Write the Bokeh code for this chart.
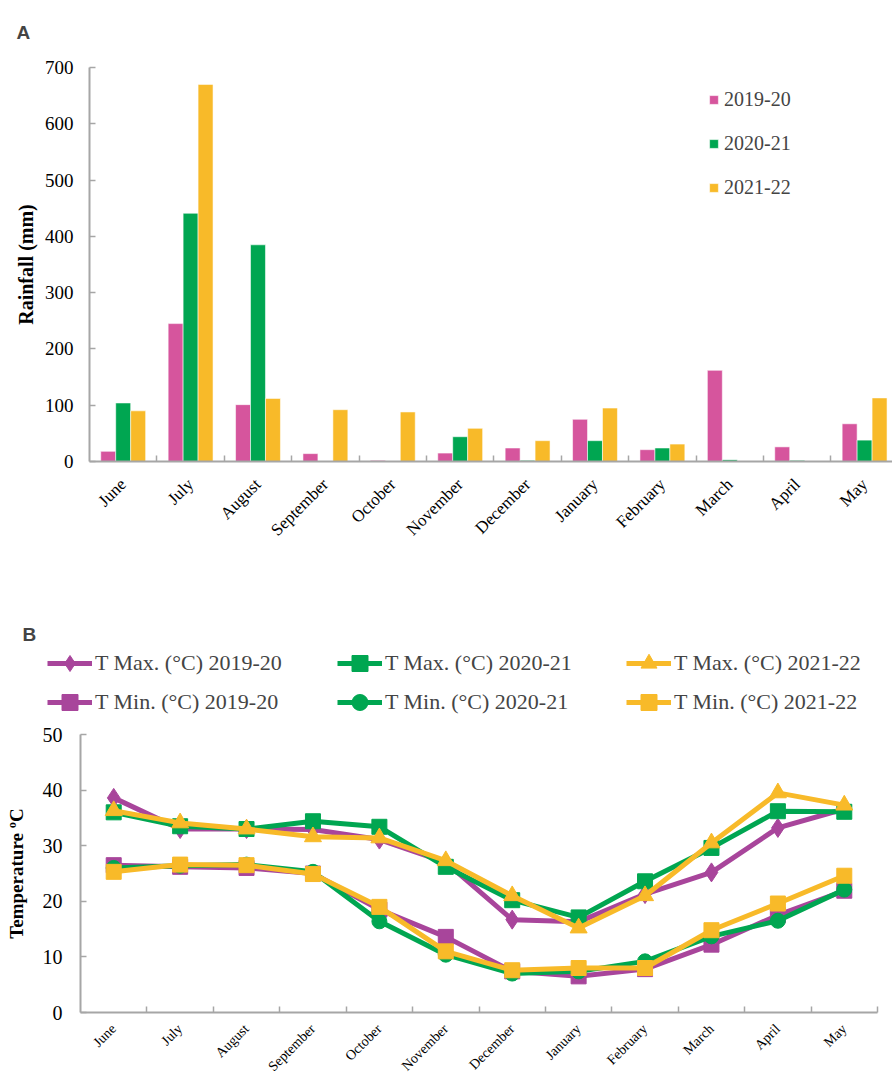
import numpy as np
from bokeh.plotting import figure
from bokeh.models import (FixedTicker, Legend, LegendItem, Range1d, Label,
                          LinearAxis)
from bokeh.embed import file_html
from bokeh.resources import INLINE

months = ["June", "July", "August", "September", "October", "November",
          "December", "January", "February", "March", "April", "May"]
seasons = ["2019-20", "2020-21", "2021-22"]

rain_2019_20 = [18, 245, 101, 14, 2, 15, 24, 75, 21, 162, 26, 67]
rain_2020_21 = [104, 441, 385, 0, 0, 44, 2, 37, 24, 3, 2, 38]
rain_2021_22 = [90, 670, 112, 92, 88, 59, 37, 95, 31, 0, 0, 113]

tmax_2019_20 = [38.6, 33.0, 33.0, 32.9, 31.1, 27.0, 16.7, 16.3, 21.3, 25.2, 33.2, 36.6]
tmax_2020_21 = [36.0, 33.5, 33.0, 34.4, 33.4, 26.2, 20.2, 17.1, 23.6, 29.6, 36.2, 36.1]
tmax_2021_22 = [36.3, 34.1, 33.0, 31.6, 31.4, 27.3, 21.0, 15.2, 21.0, 30.5, 39.5, 37.3]
tmin_2019_20 = [26.5, 26.2, 26.0, 25.0, 18.5, 13.6, 7.4, 6.5, 7.8, 12.2, 17.5, 21.9]
tmin_2020_21 = [26.0, 26.4, 26.6, 25.3, 16.4, 10.4, 7.0, 7.4, 9.2, 13.7, 16.5, 22.1]
tmin_2021_22 = [25.3, 26.6, 26.5, 24.9, 19.0, 11.0, 7.6, 8.0, 8.0, 14.8, 19.6, 24.6]

PINK = "#D6559D"
GREEN = "#00A651"
YELLOW = "#F8BA29"
PURPLE = "#A8459B"
AXIS = "#A6A6A6"
SERIF = "Liberation Serif"
SANS = "Liberation Sans"

# canvas size (canvas pixel coordinates, origin at top-left)
W, H = 892, 1081

n = len(months)
centers = np.arange(n) + 0.5
overrides = {float(c): m for c, m in zip(centers, months)}

# layout of panel A (px)
A_LEFT, A_ZERO, A_TOP, A_CAT, A_YMAX = 89, 461, 67, 67.4, 700
# layout of panel B (px)
B_LEFT, B_ZERO, B_TOP, B_RIGHT, B_YMAX = 80, 1012, 734, 877, 50
B_CAT = (B_RIGHT - B_LEFT) / n


def rng_x(left, cat):
    return Range1d(-left / cat, (W - left) / cat)


def rng_y(zero, top, ymax):
    k = (zero - top) / ymax
    return Range1d(-(H - zero) / k, zero / k)


p = figure(width=W, height=H, output_backend="svg", toolbar_location=None,
           x_range=Range1d(0, W), y_range=Range1d(0, H),
           x_axis_location=None, y_axis_location=None,
           min_border_left=0, min_border_right=0, min_border_top=0, min_border_bottom=0)
p.outline_line_color = None
p.grid.visible = False
p.extra_x_ranges = {"xA": rng_x(A_LEFT, A_CAT), "xB": rng_x(B_LEFT, B_CAT)}
p.extra_y_ranges = {"yA": rng_y(A_ZERO, A_TOP, A_YMAX), "yB": rng_y(B_ZERO, B_TOP, B_YMAX)}
xA_end = p.extra_x_ranges["xA"].end


def x_axis(xr, yr, end, minor, size, standoff):
    ax = LinearAxis(x_range_name=xr, y_range_name=yr, fixed_location=0, bounds=(0, end))
    ax.ticker = FixedTicker(ticks=list(centers), minor_ticks=minor)
    ax.major_label_overrides = overrides
    ax.major_label_orientation = np.pi / 4
    ax.major_tick_in = 0
    ax.major_tick_out = 0
    ax.minor_tick_in = 6
    ax.minor_tick_out = 0
    ax.minor_tick_line_color = AXIS
    ax.minor_tick_line_width = 1.5
    ax.axis_line_color = AXIS
    ax.axis_line_width = 2
    ax.major_label_text_font = SERIF
    ax.major_label_text_font_size = size
    ax.major_label_text_color = "black"
    ax.major_label_standoff = standoff
    p.add_layout(ax, "below")


def y_axis(xr, yr, ymax, step, label, size, lab_size, standoff, lab_standoff):
    ax = LinearAxis(x_range_name=xr, y_range_name=yr, fixed_location=0, bounds=(0, ymax))
    ax.ticker = FixedTicker(ticks=list(range(0, ymax + 1, step)))
    ax.major_tick_in = 6
    ax.major_tick_out = 0
    ax.minor_tick_in = 0
    ax.minor_tick_out = 0
    ax.major_tick_line_color = AXIS
    ax.major_tick_line_width = 1.5
    ax.axis_line_color = AXIS
    ax.axis_line_width = 2
    ax.major_label_text_font = SERIF
    ax.major_label_text_font_size = size
    ax.major_label_text_color = "black"
    ax.major_label_standoff = standoff
    ax.axis_label = label
    ax.axis_label_text_font = SERIF
    ax.axis_label_text_font_size = lab_size
    ax.axis_label_text_font_style = "bold"
    ax.axis_label_text_color = "black"
    ax.axis_label_standoff = lab_standoff
    p.add_layout(ax, "left")


# ---------------- Panel A : rainfall bars ----------------
bw = 0.222
rA = []
for k, (vals, col) in enumerate(zip([rain_2019_20, rain_2020_21, rain_2021_22],
                                    [PINK, GREEN, YELLOW])):
    r = p.vbar(x=centers + (k - 1) * bw, top=vals, width=bw, bottom=0,
               x_range_name="xA", y_range_name="yA",
               fill_color=col, line_color="white", line_alpha=0.55, line_width=1)
    rA.append(r)

x_axis("xA", "yA", xA_end, list(range(1, n)), "17px", 20)
y_axis("xA", "yA", A_YMAX, 100, "Rainfall (mm)", "19px", "20px", 16, 5)

legA = Legend(items=[LegendItem(label=s, renderers=[r]) for s, r in zip(seasons, rA)],
              location=(708, H - 199), glyph_width=11, glyph_height=11,
              label_height=24, spacing=20, padding=0, margin=0, label_standoff=5,
              label_text_font=SERIF, label_text_font_size="20px",
              border_line_color=None, background_fill_alpha=0)
p.add_layout(legA, "center")

p.add_layout(Label(x=16, y=H - 32, x_units="screen", y_units="screen",
                   text="A", text_font=SANS, text_font_style="bold",
                   text_font_size="19px", text_baseline="alphabetic"))

# ---------------- Panel B : temperature lines ----------------
series = [
    (tmax_2019_20, PURPLE, "diamond", 19, "T Max. (°C) 2019-20"),
    (tmax_2020_21, GREEN, "square", 15, "T Max. (°C) 2020-21"),
    (tmax_2021_22, YELLOW, "triangle", 17, "T Max. (°C) 2021-22"),
    (tmin_2019_20, PURPLE, "square", 15, "T Min. (°C) 2019-20"),
    (tmin_2020_21, GREEN, "circle", 15, "T Min. (°C) 2020-21"),
    (tmin_2021_22, YELLOW, "square", 15, "T Min. (°C) 2021-22"),
]
itemsB = []
for vals, col, mk, sz, lab in series:
    ln = p.line(x=centers, y=vals, line_color=col, line_width=5,
                x_range_name="xB", y_range_name="yB")
    sc = p.scatter(x=centers, y=vals, marker=mk, size=sz,
                   fill_color=col, line_color=col,
                   x_range_name="xB", y_range_name="yB")
    itemsB.append(LegendItem(label=lab, renderers=[ln, sc]))

x_axis("xB", "yB", n, list(range(1, n + 1)), "14px", 14)
y_axis("xB", "yB", B_YMAX, 10, "Temperature ºC", "20px", "19px", 18, 13)

# legend grid: columns = seasons, rows = (T Max, T Min)
GH = 40
for i, item in enumerate(itemsB):
    x0 = [47, 337, 626][i % 3]
    yc = [663, 702][i // 3]
    leg = Legend(items=[item], location=(x0, H - (yc + GH / 2)),
                 glyph_width=45, glyph_height=GH, label_height=GH,
                 spacing=0, padding=0, margin=0, label_standoff=3,
                 label_text_font=SERIF, label_text_font_size="22px",
                 border_line_color=None, background_fill_alpha=0)
    p.add_layout(leg, "center")

p.add_layout(Label(x=22, y=H - 634, x_units="screen", y_units="screen",
                   text="B", text_font=SANS, text_font_style="bold",
                   text_font_size="19px", text_baseline="alphabetic"))

open("out.html", "w").write(file_html(p, INLINE))
